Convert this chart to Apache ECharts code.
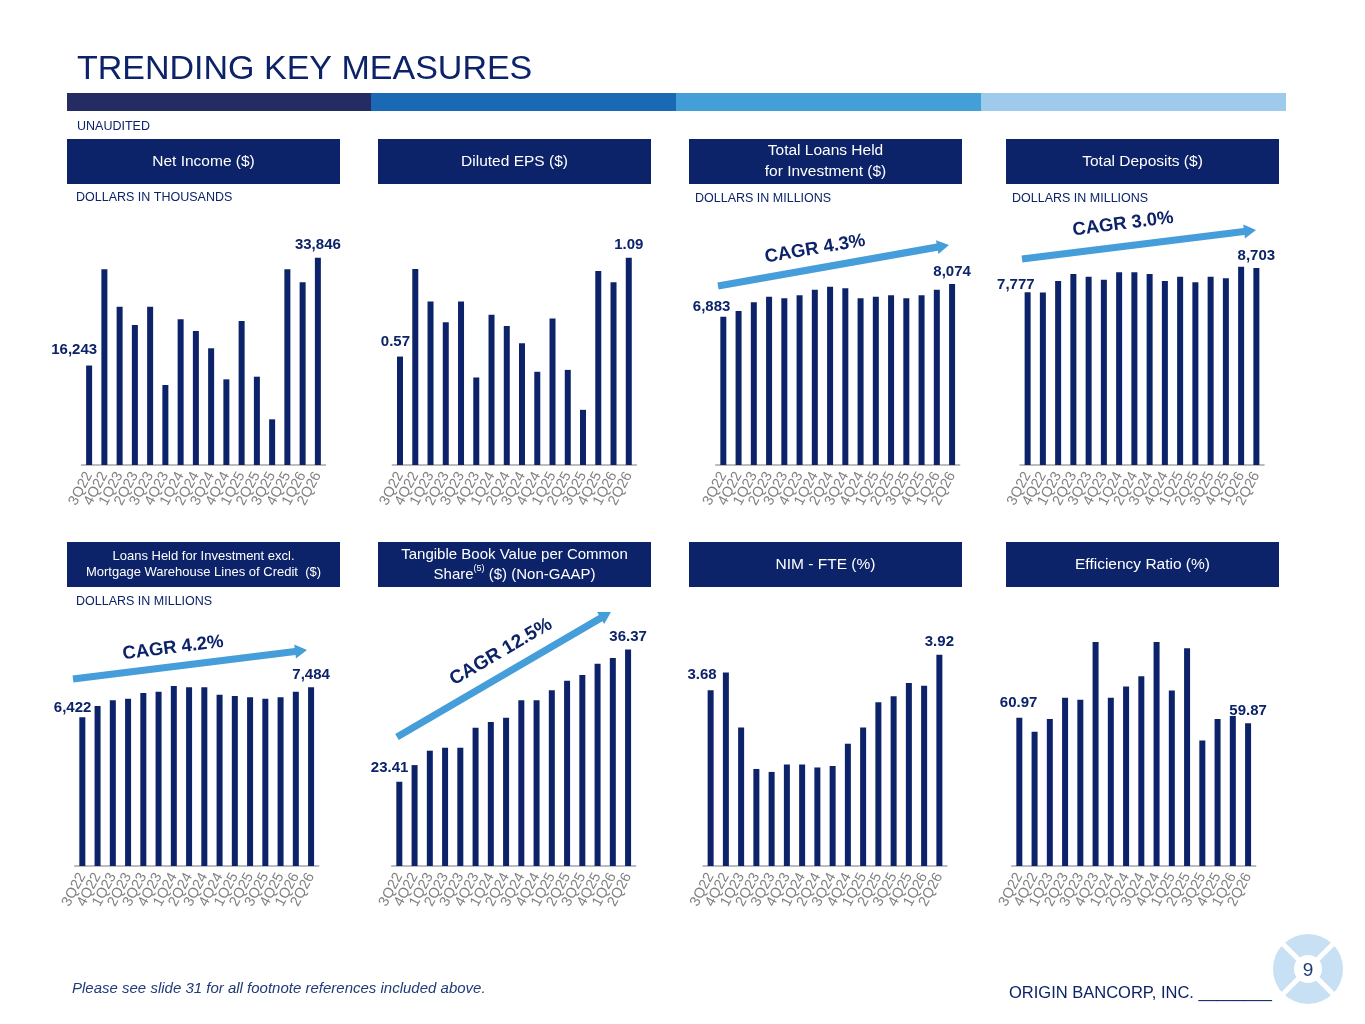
<!DOCTYPE html>
<html>
<head>
<meta charset="utf-8">
<title>Trending Key Measures</title>
<script src="https://cdn.jsdelivr.net/npm/echarts@6/dist/echarts.min.js"></script>
<style>
  html, body { margin: 0; padding: 0; background: #fff; }
  #slide { width: 1365px; height: 1024px; }
</style>
</head>
<body>
<div id="slide"></div>
<script>
// Quarter labels shared by every panel
const QUARTERS = ["3Q22", "4Q22", "1Q23", "2Q23", "3Q23", "4Q23", "1Q24", "2Q24",
                  "3Q24", "4Q24", "1Q25", "2Q25", "3Q25", "4Q25", "1Q26", "2Q26"];

// Series values (only first/last are printed there)
const netIncome       = [16243, 31960, 25850, 22860, 25850, 13060, 23790, 21880, 19060, 13990, 23520, 14420, 7460, 31960, 29830, 33846];
const dilutedEps      = [0.57, 1.03, 0.86, 0.75, 0.86, 0.46, 0.79, 0.73, 0.64, 0.49, 0.77, 0.50, 0.29, 1.02, 0.96, 1.09];
const totalLoans      = [6883, 7090, 7407, 7611, 7553, 7662, 7866, 7975, 7917, 7553, 7611, 7662, 7553, 7662, 7866, 8074];
const totalDeposits   = [7777, 7770, 8208, 8474, 8371, 8257, 8539, 8539, 8474, 8208, 8371, 8158, 8371, 8310, 8752, 8703];
const loansExMw       = [6422, 6822, 7024, 7080, 7282, 7328, 7530, 7484, 7484, 7222, 7176, 7130, 7080, 7130, 7328, 7484];
const tbvPerShare     = [23.41, 25.04, 26.45, 26.74, 26.74, 28.70, 29.25, 29.68, 31.38, 31.38, 32.36, 33.30, 33.86, 34.96, 35.52, 36.37];
const nimFte          = [3.68, 3.80, 3.43, 3.15, 3.13, 3.18, 3.18, 3.16, 3.17, 3.32, 3.43, 3.60, 3.64, 3.73, 3.71, 3.92];
const efficiencyRatio = [60.97, 58.2, 60.7, 64.9, 64.5, 75.8, 64.9, 67.1, 69.1, 75.8, 66.3, 74.6, 56.5, 60.7, 61.3, 59.87];

// CAGR callouts
const cagrLabels = ["CAGR 4.3%", "CAGR 3.0%", "CAGR 4.2%", "CAGR 12.5%"];

const NAVY = "#0c2369";
const ARROW = "#459ed9";
const FONT = "'Liberation Sans', Arial, Helvetica, sans-serif";

// panel layout: grid position, header box, y range, first-label nudge
const PANELS = [
  { data: netIncome, digits: 0, left: 81.5, top: 235, box: [67, 139], yMin: 0, yMax: 37560, firstOff: [8, -3],
    title: "Net Income ($)", sub: "DOLLARS IN THOUSANDS", subPos: [76, 198] },
  { data: dilutedEps, digits: 2, left: 392.4, top: 235, box: [378, 139], yMin: 0, yMax: 1.209, firstOff: [10, -2],
    title: "Diluted EPS ($)" },
  { data: totalLoans, digits: 0, left: 715.7, top: 235, box: [689, 139], yMin: 1485, yMax: 9857, firstOff: [7, 3],
    title: "Total Loans Held\nfor Investment ($)", titleLH: 21, sub: "DOLLARS IN MILLIONS", subPos: [695, 199] },
  { data: totalDeposits, digits: 0, left: 1020, top: 235, box: [1006, 139], yMin: 1197, yMax: 9960, firstOff: [7, 5],
    title: "Total Deposits ($)", sub: "DOLLARS IN MILLIONS", subPos: [1012, 199] },
  { data: loansExMw, digits: 0, left: 74.7, top: 636, box: [67, 542], yMin: 1158, yMax: 9300, firstOff: [9, 3],
    title: "Loans Held for Investment excl.\nMortgage Warehouse Lines of Credit  ($)", titleSize: 13, titleLH: 16,
    sub: "DOLLARS IN MILLIONS", subPos: [76, 602] },
  { data: tbvPerShare, digits: 2, left: 391.7, top: 636, box: [378, 542], yMin: 15.16, yMax: 37.68, firstOff: [9, -1],
    title: "Tangible Book Value per Common\nShare{sup|(5)} ($) (Non-GAAP)", titleSize: 15, titleLH: 20 },
  { data: nimFte, digits: 2, left: 703, top: 636, box: [689, 542], yMin: 2.496, yMax: 4.046, firstOff: [6, -3],
    title: "NIM - FTE (%)" },
  { data: efficiencyRatio, digits: 2, left: 1011.7, top: 636, box: [1006, 542], yMin: 31.9, yMax: 76.98, firstOff: [18, -2],
    title: "Efficiency Ratio (%)" },
];

// arrows: start, end, text centre, text angle (deg)
const ARROWS = [
  { from: [718, 286], to: [949, 245], text: [815, 249], angle: 9.5, size: 18.5 },
  { from: [1022, 259], to: [1256, 230], text: [1123, 224], angle: 7.2, size: 18.5 },
  { from: [73, 679], to: [307, 650], text: [173, 648], angle: 7.1, size: 18.5 },
  { from: [397, 737], to: [611, 612], text: [501, 652], angle: 30.3, size: 19 },
];

function fmt(v, digits) {
  return digits === 0 ? Math.round(v).toLocaleString("en-US") : v.toFixed(digits);
}

function barData(p) {
  const last = p.data.length - 1;
  return p.data.map((v, i) => {
    if (i === 0) return { value: v, label: { show: true, position: "top", align: "right", offset: p.firstOff } };
    if (i === last) return { value: v, label: { show: true, position: "top", distance: 5 } };
    return v;
  });
}

function arrowPoints(a) {
  const [x1, y1] = a.from, [x2, y2] = a.to;
  const len = Math.hypot(x2 - x1, y2 - y1);
  const ux = (x2 - x1) / len, uy = (y2 - y1) / len;
  const nx = -uy, ny = ux;
  const w = 3.6, hw = 7, hl = 12;
  const bx = x2 - ux * hl, by = y2 - uy * hl;
  return [
    [x1 + nx * w, y1 + ny * w], [bx + nx * w, by + ny * w], [bx + nx * hw, by + ny * hw],
    [x2, y2],
    [bx - nx * hw, by - ny * hw], [bx - nx * w, by - ny * w], [x1 - nx * w, y1 - ny * w],
  ];
}

const graphics = [];
// title + colour band
graphics.push({ type: "text", x: 77, y: 70, style: { text: "TRENDING KEY MEASURES", fill: NAVY,
  fontSize: 34, fontFamily: FONT, verticalAlign: "middle" } });
[["#252b63", 67, 371], ["#1a69b4", 371, 676], ["#449fd9", 676, 981], ["#9ecbeb", 981, 1286]].forEach(([c, a, b]) => {
  graphics.push({ type: "rect", shape: { x: a, y: 93, width: b - a, height: 18 }, style: { fill: c } });
});
graphics.push({ type: "text", x: 77, y: 127, style: { text: "UNAUDITED", fill: NAVY, fontSize: 12.5,
  fontFamily: FONT, verticalAlign: "middle" } });

// header boxes and sub captions
PANELS.forEach((p) => {
  const [bx, by] = p.box;
  graphics.push({ type: "rect", shape: { x: bx, y: by, width: 273, height: 45 }, style: { fill: NAVY } });
  graphics.push({ type: "text", x: bx + 136.5, y: by + 22.5, style: {
    text: p.title, fill: "#fff", fontSize: p.titleSize || 15.5, fontFamily: FONT,
    lineHeight: p.titleLH || 20, align: "center", verticalAlign: "middle",
    rich: { sup: { fontSize: 9, fill: "#fff", fontFamily: FONT, verticalAlign: "top", lineHeight: 14 } } } });
  if (p.sub) {
    graphics.push({ type: "text", x: p.subPos[0], y: p.subPos[1], style: { text: p.sub, fill: NAVY,
      fontSize: 12.5, fontFamily: FONT, verticalAlign: "middle" } });
  }
});

// CAGR arrows
ARROWS.forEach((a, i) => {
  graphics.push({ type: "polygon", shape: { points: arrowPoints(a) }, style: { fill: ARROW } });
  graphics.push({ type: "text", x: a.text[0], y: a.text[1], rotation: a.angle * Math.PI / 180, style: {
    text: cagrLabels[i], fill: NAVY, fontSize: a.size, fontWeight: "bold", fontFamily: FONT,
    align: "center", verticalAlign: "middle" } });
});

// footer
graphics.push({ type: "text", x: 72, y: 989, style: { text: "Please see slide 31 for all footnote references included above.",
  fill: "#1f3a78", fontSize: 15, fontStyle: "italic", fontFamily: FONT, verticalAlign: "middle" } });
graphics.push({ type: "text", x: 1009, y: 993, style: { text: "ORIGIN BANCORP, INC. ________", fill: NAVY,
  fontSize: 16.5, fontFamily: FONT, verticalAlign: "middle" } });
graphics.push({ type: "circle", shape: { cx: 1308, cy: 969, r: 35 }, style: { fill: "#c7e0f3" } });
graphics.push({ type: "line", shape: { x1: 1283, y1: 944, x2: 1333, y2: 994 }, style: { stroke: "#fff", lineWidth: 5 } });
graphics.push({ type: "line", shape: { x1: 1333, y1: 944, x2: 1283, y2: 994 }, style: { stroke: "#fff", lineWidth: 5 } });
graphics.push({ type: "circle", shape: { cx: 1308, cy: 969, r: 14 }, style: { fill: "#fff" } });
graphics.push({ type: "text", x: 1308, y: 971, style: { text: "9", fill: "#1f3a78", fontSize: 19, fontFamily: FONT,
  align: "center", verticalAlign: "middle" } });

const option = {
  animation: false,
  textStyle: { fontFamily: FONT },
  grid: PANELS.map((p) => ({ left: p.left, top: p.top, width: 244, height: 230 })),
  xAxis: PANELS.map((p, i) => ({
    type: "category", gridIndex: i, data: QUARTERS,
    axisLine: { lineStyle: { color: "#a6a6a6", width: 1.5 } },
    axisTick: { alignWithLabel: true, length: 5, lineStyle: { color: "#a6a6a6", width: 1.5 } },
    axisLabel: { interval: 0, rotate: 62, fontSize: 14.5, color: "#808080", margin: 8, fontFamily: FONT },
  })),
  yAxis: PANELS.map((p, i) => ({ type: "value", gridIndex: i, min: p.yMin, max: p.yMax, show: false })),
  series: PANELS.map((p, i) => ({
    type: "bar", xAxisIndex: i, yAxisIndex: i, barWidth: 6,
    itemStyle: { color: NAVY },
    label: { show: false, color: NAVY, fontWeight: "bold", fontSize: 15, fontFamily: FONT,
             formatter: (pr) => fmt(pr.value, p.digits) },
    data: barData(p),
  })),
  graphic: { elements: graphics },
};

const chart = echarts.init(document.getElementById("slide"), null, { renderer: "canvas" });
chart.setOption(option);
</script>
</body>
</html>
